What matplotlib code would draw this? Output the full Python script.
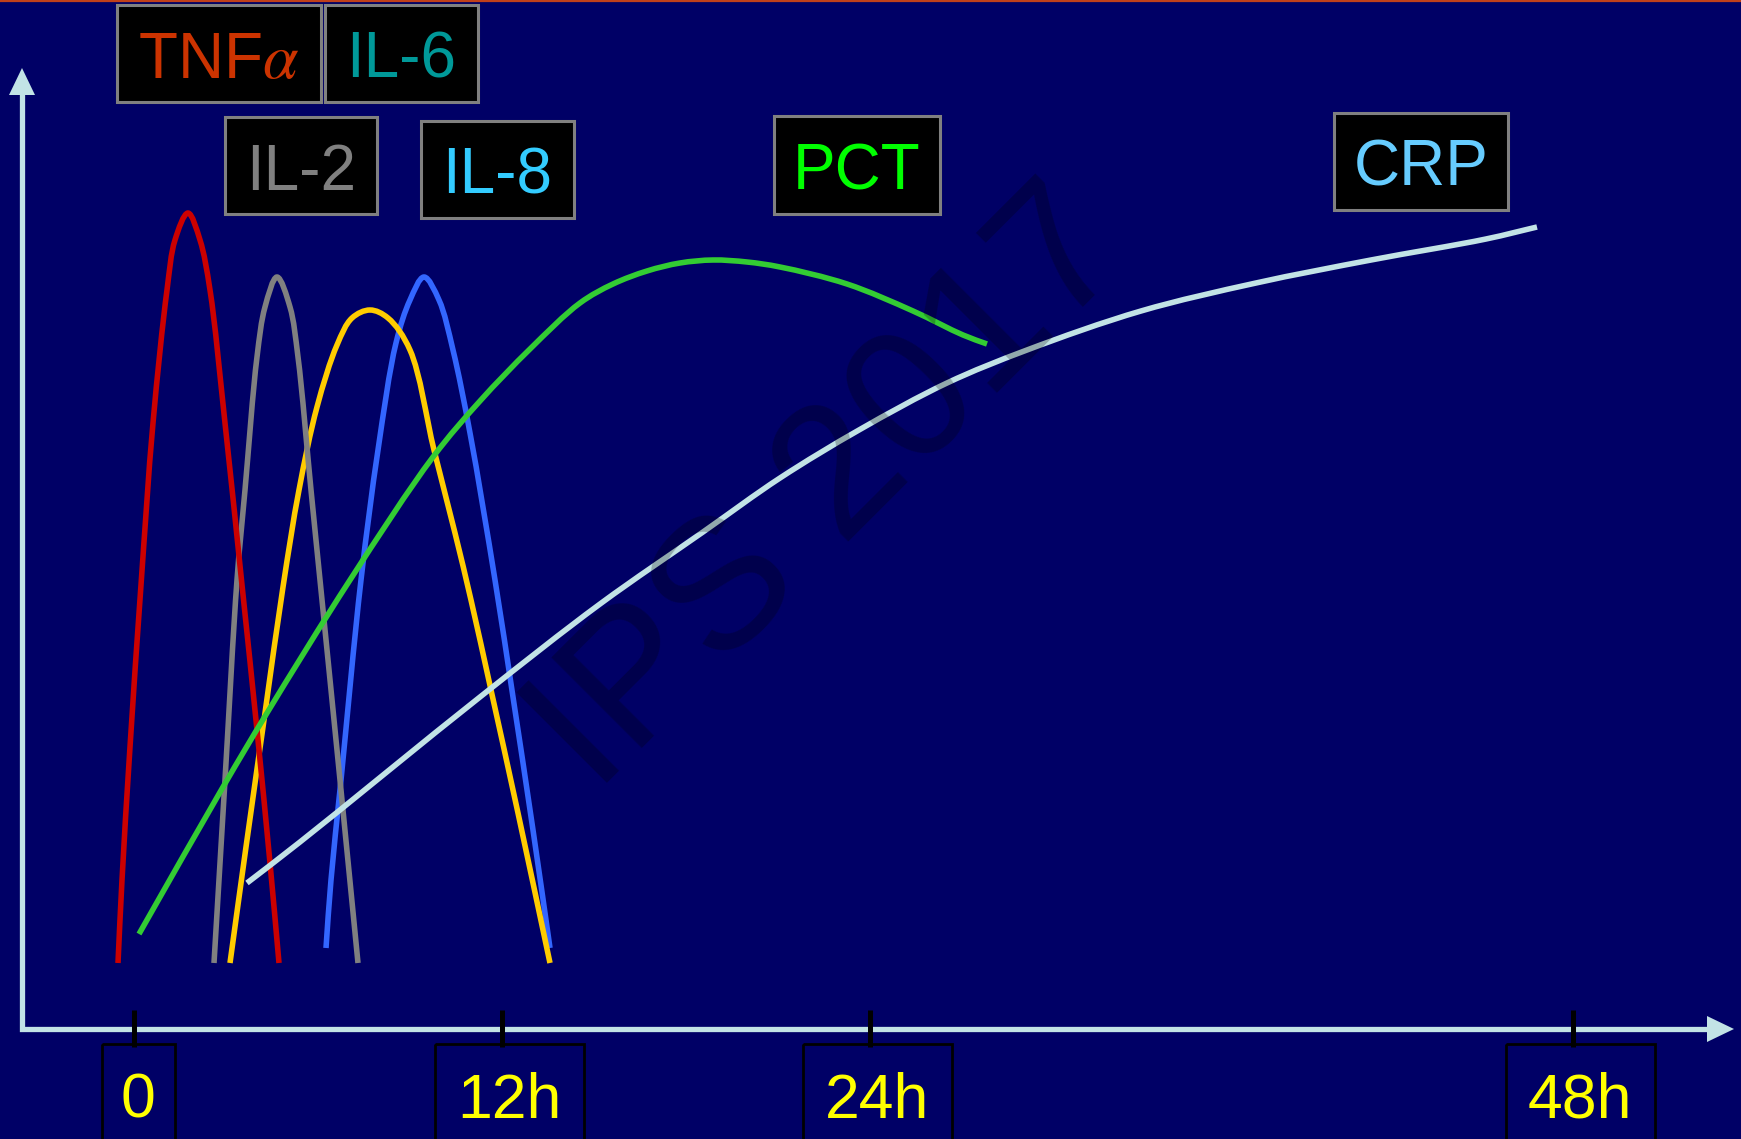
import matplotlib
matplotlib.use("Agg")
import matplotlib.pyplot as plt
from matplotlib.path import Path
from matplotlib.patches import PathPatch, Rectangle, Polygon
import numpy as np

plt.rcParams["font.family"] = ["Liberation Sans", "DejaVu Sans"]
plt.rcParams["mathtext.fontset"] = "stix"

# ---- data (canvas units: x to the right, y downward from the top) ----
tick_labels = ["0", "12h", "24h", "48h"]
tick_x = [134, 502, 870, 1573]

tnf_x = [118, 122, 130, 141, 153, 167, 175, 188, 200, 210, 225, 242, 257, 270, 279]
tnf_y = [963, 880, 747, 585, 423, 290, 240, 213, 240, 290, 423, 585, 730, 863, 963]

il2_x = [214, 225, 237, 245, 257, 265, 277, 290, 298, 311, 320, 340, 358]
il2_y = [963, 780, 580, 490, 357, 307, 277, 307, 357, 490, 580, 780, 963]

il6_x = [230, 246, 265, 283, 299, 317, 337, 352, 370, 388, 410, 434, 455, 471, 491, 518, 550]
il6_y = [963, 847, 713, 587, 490, 407, 345, 318, 310, 318, 350, 450, 533, 600, 690, 813, 963]

il8_x = [326, 331, 341, 361, 378, 396, 410, 424, 439, 453, 470, 495, 513, 533, 550]
il8_y = [948, 880, 780, 580, 450, 343, 300, 277, 300, 350, 433, 580, 697, 830, 948]

pct_x = [139, 223, 267, 350, 433, 480, 530, 580, 613, 647, 680, 713, 747, 780, 847, 913, 963, 987]
pct_y = [934, 787, 713, 580, 457, 401, 349, 303, 284, 271, 263, 260, 262, 267, 284, 311, 335, 344]

crp_x = [247, 300, 480, 600, 703, 780, 859, 947, 1027, 1141, 1256, 1371, 1486, 1537]
crp_y = [883, 842, 697, 604, 532, 478, 430, 383, 350, 311, 283, 260, 239, 227]

label_names = ["TNF$\\alpha$", "IL-6", "IL-2", "IL-8", "PCT", "CRP"]

# ---- style ----
BG = "#000066"
AXIS_C = "#C2E3E6"
W, H, DPI = 1741, 1139, 100


def smooth_path(xs, ys, alpha=0.5):
    """Centripetal Catmull-Rom curve through the points, as cubic Beziers."""
    p = np.column_stack([xs, ys]).astype(float)
    ext = np.vstack([2 * p[0] - p[1], p, 2 * p[-1] - p[-2]])
    t = np.concatenate([[0.0], np.cumsum(
        np.hypot(*np.diff(ext, axis=0).T) ** alpha)])
    verts = [p[0]]
    codes = [Path.MOVETO]
    for i in range(1, len(ext) - 2):
        p0, p1, p2, p3 = ext[i - 1], ext[i], ext[i + 1], ext[i + 2]
        t0, t1, t2, t3 = t[i - 1], t[i], t[i + 1], t[i + 2]
        m1 = (p1 - p0) / (t1 - t0) - (p2 - p0) / (t2 - t0) + (p2 - p1) / (t2 - t1)
        m2 = (p2 - p1) / (t2 - t1) - (p3 - p1) / (t3 - t1) + (p3 - p2) / (t3 - t2)
        m1 *= (t2 - t1)
        m2 *= (t2 - t1)
        verts += [p1 + m1 / 3.0, p2 - m2 / 3.0, p2]
        codes += [Path.CURVE4] * 3
    return Path(verts, codes)


fig = plt.figure(figsize=(W / DPI, H / DPI), dpi=DPI, facecolor=BG)
ax = fig.add_axes([0, 0, 1, 1])
ax.set_facecolor(BG)
ax.set_xlim(0, W)
ax.set_ylim(H, 0)
ax.axis("off")

# thin accent line along the top edge
ax.plot([0, W], [1, 1], color="#C0401A", lw=1.6, solid_capstyle="butt", zorder=1)

# axes with arrow heads
lw_axis = 3.8
ax.plot([22, 22, 1710], [92, 1029, 1029], color=AXIS_C, lw=lw_axis,
        solid_joinstyle="miter", zorder=2)
ax.add_patch(Polygon([[22, 68], [9, 95], [35, 95]], closed=True,
                     facecolor=AXIS_C, edgecolor="none", zorder=2))
ax.add_patch(Polygon([[1734, 1029], [1707, 1016], [1707, 1042]], closed=True,
                     facecolor=AXIS_C, edgecolor="none", zorder=2))

# time ticks and boxed labels
box_w = [73, 149, 149, 149]
for x, lab, bw in zip(tick_x, tick_labels, box_w):
    ax.plot([x, x], [1010, 1047], color="black", lw=3.6,
            solid_capstyle="butt", zorder=4)
    cx = x + (4 if lab == "0" else 7)
    ax.add_patch(Rectangle((cx - bw / 2, 1044), bw, 140, fill=False,
                           edgecolor="black", lw=2.0, zorder=3))
    ax.text(cx, 1118, lab, color="#FFFF00", fontsize=45, ha="center",
            va="baseline", zorder=5)

# marker curves
curves = [
    (il8_x, il8_y, "#3366FF"),
    (il6_x, il6_y, "#FFCC00"),
    (il2_x, il2_y, "#808080"),
    (tnf_x, tnf_y, "#CC0000"),
    (pct_x, pct_y, "#33CC33"),
    (crp_x, crp_y, "#C2E3E6"),
]
for xs, ys, c in curves:
    ax.add_patch(PathPatch(smooth_path(xs, ys), facecolor="none", edgecolor=c,
                           lw=4.0, capstyle="butt", joinstyle="round", zorder=6))

# labelled boxes for each marker
label_boxes = [
    (117, 5, 204, 97, 78, "#CC3300"),
    (325, 5, 153, 97, 78, "#009999"),
    (225, 117, 152, 97, 190, "#808080"),
    (421, 121, 153, 97, 194, "#33CCFF"),
    (774, 116, 166, 98, 189, "#00FF00"),
    (1334, 113, 174, 97, 186, "#66CCFF"),
]
for name, (bx, by, bw, bh, base, c) in zip(label_names, label_boxes):
    ax.add_patch(Rectangle((bx, by), bw, bh, facecolor="black",
                           edgecolor="#808080", lw=2.2, zorder=7))
    ax.text(bx + bw / 2, base, name, color=c, fontsize=46, ha="center",
            va="baseline", zorder=8)

# translucent watermark across the plot
ax.text(830, 492, "IPS 2017", rotation=45, rotation_mode="anchor",
        fontsize=133, color="black", alpha=0.25, ha="center", va="center",
        zorder=9)

fig.savefig("out.png", dpi=DPI, facecolor=BG)
